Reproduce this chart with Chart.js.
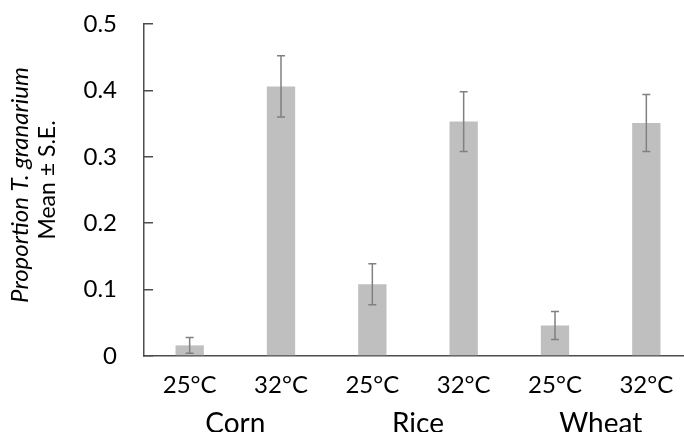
<!DOCTYPE html>
<html>
<head>
<meta charset="utf-8">
<script src="https://cdn.jsdelivr.net/npm/chart.js@4.4.1/dist/chart.umd.min.js"></script>
<style>
  html, body { margin: 0; padding: 0; background: #fff; overflow: hidden; }
  #wrap { width: 692px; height: 432px; }
</style>
</head>
<body>
<div id="wrap"><canvas id="barChart" width="692" height="432"></canvas></div>
<script>
// data
var temps = ["25°C", "32°C", "25°C", "32°C", "25°C", "32°C"];
var grains = ["Corn", "Rice", "Wheat"];
var means = [0.016, 0.406, 0.108, 0.353, 0.046, 0.351];
var errors = [0.012, 0.046, 0.031, 0.045, 0.021, 0.043];
var yTicks = [0, 0.1, 0.2, 0.3, 0.4, 0.5];

var axisColor = "#4d4d4d";
var fontName = "Lato, 'Open Sans', sans-serif";

// draws the ± S.E. whiskers
var errorBars = {
  id: "errorBars",
  afterDatasetsDraw: function (chart) {
    var ctx = chart.ctx;
    var meta = chart.getDatasetMeta(0);
    var y = chart.scales.y;
    ctx.save();
    ctx.strokeStyle = "#808080";
    ctx.lineWidth = 1.5;
    meta.data.forEach(function (bar, i) {
      var top = y.getPixelForValue(means[i] + errors[i]);
      var bot = y.getPixelForValue(means[i] - errors[i]);
      ctx.beginPath();
      ctx.moveTo(bar.x, top);
      ctx.lineTo(bar.x, bot);
      ctx.moveTo(bar.x - 4, top);
      ctx.lineTo(bar.x + 4, top);
      ctx.moveTo(bar.x - 4, bot);
      ctx.lineTo(bar.x + 4, bot);
      ctx.stroke();
    });
    ctx.restore();
  },
};

// two-line y title, first line in italics
var yTitle = {
  id: "yTitle",
  afterDraw: function (chart) {
    var ctx = chart.ctx;
    ctx.save();
    ctx.fillStyle = "#000";
    ctx.textAlign = "center";
    ctx.textBaseline = "middle";
    ctx.translate(20, 185);
    ctx.rotate(-Math.PI / 2);
    ctx.font = "italic 24px " + fontName;
    ctx.fillText("Proportion T. granarium", 0, 0);
    ctx.restore();
    ctx.save();
    ctx.fillStyle = "#000";
    ctx.textAlign = "center";
    ctx.textBaseline = "middle";
    ctx.translate(48, 180);
    ctx.rotate(-Math.PI / 2);
    ctx.font = "23px " + fontName;
    ctx.fillText("Mean ± S.E.", 0, 0);
    ctx.restore();
  },
};

var ctx = document.getElementById("barChart").getContext("2d");
var myChart = new Chart(ctx, {
  type: "bar",
  data: {
    labels: temps,
    datasets: [
      {
        data: means,
        backgroundColor: "#bfbfbf",
        borderWidth: 0,
        barPercentage: 0.31,
        categoryPercentage: 1,
      },
    ],
  },
  options: {
    responsive: false,
    animation: false,
    layout: { padding: { top: 24, right: 0, left: 0, bottom: 0 } },
    plugins: {
      legend: { display: false },
      tooltip: { enabled: false },
    },
    scales: {
      x: {
        position: "bottom",
        grid: { display: false, drawTicks: false },
        border: { display: true, color: axisColor, width: 1.5 },
        ticks: { color: "#000", padding: 15, font: { family: fontName, size: 24 } },
        afterFit: function (scale) { scale.height = 44; },
      },
      x2: {
        type: "category",
        position: "bottom",
        labels: grains,
        offset: true,
        grid: { display: false, drawTicks: false },
        border: { display: false },
        ticks: { color: "#000", padding: 7, font: { family: fontName, size: 28 } },
        afterFit: function (scale) { scale.height = 32; },
      },
      y: {
        min: 0,
        max: 0.5,
        grid: { drawOnChartArea: false, tickLength: -9, color: axisColor, lineWidth: 1.5 },
        border: { display: true, color: axisColor, width: 1.5 },
        afterBuildTicks: function (scale) {
          scale.ticks = yTicks.map(function (v) { return { value: v }; });
        },
        ticks: { color: "#000", padding: 36, font: { family: fontName, size: 24 } },
        afterFit: function (scale) {
          scale.width = 144;
          scale.paddingTop = 0;
          scale.paddingBottom = 0;
        },
      },
    },
  },
  plugins: [errorBars, yTitle],
});
</script>
</body>
</html>
